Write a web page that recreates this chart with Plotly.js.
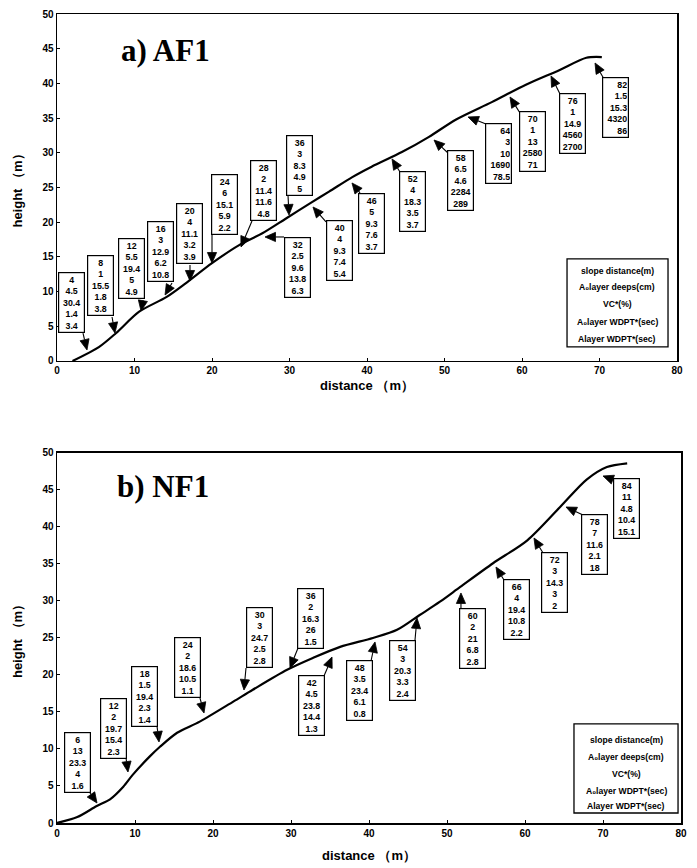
<!DOCTYPE html>
<html><head><meta charset="utf-8">
<script src="https://cdn.plot.ly/plotly-3.0.1.min.js"></script>
<style>body{margin:0;background:#fff}#chart{width:697px;height:868px}</style>
</head><body><div id="chart"></div>
<script>
// ---------- a) AF1 : slope profile ----------
const af1Dist   = [2, 5.4, 7.6, 10.6, 14.1, 16.6, 20, 23.5, 26.5, 29.5, 32.9, 35.1, 38.1, 40.6, 44.5, 48, 51.5, 56.1, 60.5, 64.8, 68.3, 70.3];
const af1Height = [0, 2.0, 4.0, 7.1, 9.2, 11.2, 14.1, 16.7, 18.4, 20.5, 22.9, 24.4, 26.5, 28.0, 30.1, 32.3, 34.8, 37.3, 39.8, 41.9, 43.7, 43.8];
// ---------- a) AF1 : sample point values ----------
const af1Slope  = [4, 8, 12, 16, 20, 24, 28, 32, 36, 40, 46, 52, 58, 64, 70, 76, 82];
const af1Depth  = [4.5, 1, 5.5, 3, 4, 6, 2, 2.5, 3, 4, 5, 4, 6.5, 3, 1, 1, 1.5];
const af1VC     = [30.4, 15.5, 19.4, 12.9, 11.1, 15.1, 11.4, 9.6, 8.3, 9.3, 9.3, 18.3, 4.6, 10, 13, 14.9, 15.3];
const af1WdptA0 = [1.4, 1.8, 5, 6.2, 3.2, 5.9, 11.6, 13.8, 4.9, 7.4, 7.6, 3.5, 2284, 1690, 2580, 4560, 4320];
const af1WdptA  = [3.4, 3.8, 4.9, 10.8, 3.9, 2.2, 4.8, 6.3, 5, 5.4, 3.7, 3.7, 289, 78.5, 71, 2700, 86];

// ---------- b) NF1 : slope profile ----------
const nf1Dist   = [0, 2.6, 5.1, 6.8, 8.5, 9.7, 11.9, 13.2, 15.4, 18.3, 22.6, 25.1, 29.5, 32.8, 36.3, 40.5, 43.6, 46.5, 49.1, 51.7, 55.9, 60.3, 64.5, 67.9, 70.5, 73.1];
const nf1Height = [0, 0.8, 2.3, 3.2, 4.9, 6.5, 9.0, 10.3, 12.2, 13.7, 16.4, 18.0, 20.7, 22.3, 23.8, 25.0, 26.1, 28.1, 29.9, 31.9, 35.1, 38.2, 42.7, 46.4, 48.1, 48.6];
// ---------- b) NF1 : sample point values ----------
const nf1Slope  = [6, 12, 18, 24, 30, 36, 42, 48, 54, 60, 66, 72, 78, 84];
const nf1Depth  = [13, 2, 1.5, 2, 3, 2, 4.5, 3.5, 3, 2, 4, 3, 7, 11];
const nf1VC     = [23.3, 19.7, 19.4, 18.6, 24.7, 16.3, 23.8, 23.4, 20.3, 21, 19.4, 14.3, 11.6, 4.8];
const nf1WdptA0 = [4, 15.4, 2.3, 10.5, 2.5, 26, 14.4, 6.1, 3.3, 6.8, 10.8, 3, 2.1, 10.4];
const nf1WdptA  = [1.6, 2.3, 1.4, 1.1, 2.8, 1.5, 1.3, 0.8, 2.4, 2.8, 2.2, 2, 18, 15.1];

// ---------- texts / ticks ----------
const legendLines = ['slope distance(m)', 'A₀layer deeps(cm)', 'VC*(%)',
                     'A₀layer WDPT*(sec)', 'Alayer WDPT*(sec)'];
const xTickVals = [0, 10, 20, 30, 40, 50, 60, 70, 80];
const yTickVals = [0, 5, 10, 15, 20, 25, 30, 35, 40, 45, 50];
const titleA = 'a) AF1', titleB = 'b) NF1';

// ---------- layout placement (axis units): box centre, arrow tail, arrow tip, align ----------
const af1Place = [
  [1.87, 8.43, 3.35, 4.03, 3.87, 1.59, 'center'],
  [5.55, 10.81, 7.10, 6.34, 7.48, 4.03, 'center'],
  [9.55, 13.26, 11.10, 8.79, 10.84, 7.20, 'center'],
  [13.29, 15.78, 14.84, 11.24, 13.94, 9.51, 'center'],
  [17.16, 18.30, 17.16, 13.83, 17.16, 11.53, 'center'],
  [21.61, 22.62, 20.0, 18.16, 20.0, 14.12, 'center'],
  [26.65, 24.57, 25.16, 20.17, 23.74, 16.43, 'center'],
  [30.97, 13.54, 29.29, 17.87, 26.84, 17.87, 'center'],
  [31.23, 28.17, 29.81, 23.78, 29.94, 21.04, 'center'],
  [36.39, 15.92, 34.71, 20.03, 33.03, 22.19, 'center'],
  [40.58, 19.88, 39.10, 24.21, 38.06, 25.65, 'center'],
  [45.81, 23.05, 44.26, 27.23, 43.23, 29.11, 'center'],
  [52.0, 26.08, 50.45, 29.97, 48.65, 31.84, 'center'],
  [56.97, 29.97, 55.35, 34.15, 53.03, 35.16, 'right'],
  [61.29, 31.63, 59.74, 35.73, 58.45, 38.04, 'center'],
  [66.52, 34.22, 64.90, 38.47, 63.74, 41.07, 'center'],
  [72.06, 36.46, 70.58, 40.63, 69.42, 42.94, 'right']
];
const nf1Place = [
  [2.69, 8.11, 4.23, 4.05, 5.13, 2.70, 'center'],
  [7.24, 12.77, 8.85, 8.78, 9.10, 6.89, 'center'],
  [11.28, 17.09, 12.82, 13.11, 13.08, 10.95, 'center'],
  [16.73, 20.95, 18.33, 16.89, 18.85, 14.86, 'center'],
  [25.90, 25.0, 24.23, 20.95, 23.97, 17.97, 'center'],
  [32.44, 27.70, 30.90, 23.65, 29.87, 20.95, 'center'],
  [32.69, 15.88, 34.23, 19.86, 35.26, 22.43, 'center'],
  [38.72, 17.84, 40.26, 21.89, 40.77, 24.46, 'center'],
  [44.29, 20.54, 45.90, 24.73, 46.15, 27.70, 'center'],
  [53.27, 24.93, 51.79, 29.05, 51.79, 31.08, 'center'],
  [58.85, 28.85, 57.31, 32.84, 56.28, 34.59, 'center'],
  [63.78, 32.50, 62.31, 36.49, 61.15, 38.51, 'center'],
  [68.97, 37.64, 67.44, 41.62, 65.26, 42.70, 'center'],
  [73.01, 42.43, 71.41, 46.35, 70.0, 46.89, 'center']
];

const FONT = 'Liberation Sans, Arial, sans-serif';
const W = 697, H = 868, M = {l: 57, r: 16, t: 14, b: 45};
const plotW = W - M.l - M.r, plotH = H - M.t - M.b;
const domX1 = [0, 0.9936], domY1 = [0.5711, 1], domX2 = [0, 1], domY2 = [0, 0.4574];
// pixels per axis unit (used only to shape isotropic arrowheads)
const sx1 = plotW * (domX1[1] - domX1[0]) / 80, sy1 = plotH * (domY1[1] - domY1[0]) / 50;
const sx2 = plotW * (domX2[1] - domX2[0]) / 80, sy2 = plotH * (domY2[1] - domY2[0]) / 50;

const annotations = [];
const shapes = [];

function arrowShapes(tx, ty, px, py, sx, sy, xr, yr) {
  const dx = (px - tx) * sx, dy = (py - ty) * sy;
  const len = Math.hypot(dx, dy), ux = dx / len, uy = dy / len;
  const L = 10.5, HW = 4.6;
  const bx = px * sx - ux * L, by = py * sy - uy * L;
  const p1 = [(bx - uy * HW) / sx, (by + ux * HW) / sy];
  const p2 = [(bx + uy * HW) / sx, (by - ux * HW) / sy];
  shapes.push({type: 'line', xref: xr, yref: yr, x0: tx, y0: ty, x1: bx / sx, y1: by / sy,
               line: {color: '#000', width: 1.1}});
  shapes.push({type: 'path', xref: xr, yref: yr,
               path: `M${px},${py}L${p1[0]},${p1[1]}L${p2[0]},${p2[1]}Z`,
               fillcolor: '#000', line: {color: '#000', width: 0.8}});
}

function addBoxes(slope, depth, vc, w0, w1, place, xr, yr, sx, sy) {
  slope.forEach((s, i) => {
    const p = place[i];
    annotations.push({
      xref: xr, yref: yr, x: p[0], y: p[1], xanchor: 'center', yanchor: 'middle',
      text: [s, depth[i], vc[i], w0[i], w1[i]].join('<br>'),
      showarrow: false, align: p[6], width: 23, height: 57,
      bordercolor: '#000', borderwidth: 1.2, borderpad: 1, bgcolor: '#fff',
      font: {family: FONT, size: 8.8, color: '#000', weight: 'bold'}
    });
    arrowShapes(p[2], p[3], p[4], p[5], sx, sy, xr, yr);
  });
}
addBoxes(af1Slope, af1Depth, af1VC, af1WdptA0, af1WdptA, af1Place, 'x', 'y', sx1, sy1);
addBoxes(nf1Slope, nf1Depth, nf1VC, nf1WdptA0, nf1WdptA, nf1Place, 'x2', 'y2', sx2, sy2);

function addLegend(xr, yr, rect, cx, rows) {
  shapes.push({type: 'rect', xref: xr, yref: yr, x0: rect[0], x1: rect[1], y0: rect[2], y1: rect[3],
               line: {color: '#000', width: 1.3}, fillcolor: '#fff', layer: 'below'});
  legendLines.forEach((t, i) => annotations.push({
    xref: xr, yref: yr, x: cx, y: rows[i], text: t, showarrow: false,
    font: {family: FONT, size: 8.6, color: '#000', weight: 'bold'}
  }));
}
addLegend('x', 'y', [65.81, 78.84, 2.02, 14.70], 72.32, [12.97, 10.66, 8.21, 5.62, 3.17]);
addLegend('x2', 'y2', [66.28, 79.62, 1.35, 13.38], 72.95, [11.22, 8.92, 6.62, 4.32, 2.30]);

annotations.push({xref: 'x', yref: 'y', x: 14.06, y: 44.67, text: titleA, showarrow: false,
  font: {family: 'Liberation Serif, Times New Roman, serif', size: 31, color: '#000', weight: 'bold'}});
annotations.push({xref: 'x2', yref: 'y2', x: 13.59, y: 45.41, text: titleB, showarrow: false,
  font: {family: 'Liberation Serif, Times New Roman, serif', size: 31, color: '#000', weight: 'bold'}});

const tickFont = {family: FONT, size: 10, color: '#000', weight: 'bold'};
const titleFont = {family: FONT, size: 13, color: '#000', weight: 'bold'};
function axis(dom, extra) {
  return Object.assign({
    domain: dom, showline: true, mirror: true, linecolor: '#000', linewidth: 1.5,
    ticks: 'inside', ticklen: 3, tickcolor: '#000', showgrid: false, zeroline: false,
    tickfont: tickFont, automargin: false, fixedrange: true
  }, extra);
}

const traces = [
  {x: af1Dist, y: af1Height, xaxis: 'x', yaxis: 'y', mode: 'lines',
   line: {color: '#000', width: 2.2, shape: 'spline', smoothing: 0.8}, hoverinfo: 'skip'},
  {x: nf1Dist, y: nf1Height, xaxis: 'x2', yaxis: 'y2', mode: 'lines',
   line: {color: '#000', width: 2.2, shape: 'spline', smoothing: 0.8}, hoverinfo: 'skip'}
];

const layout = {
  width: W, height: H, showlegend: false,
  paper_bgcolor: '#fff', plot_bgcolor: '#fff',
  margin: M,
  xaxis: axis(domX1, {range: [0, 80], tickvals: xTickVals, anchor: 'y',
    title: {text: 'distance （m）', font: titleFont, standoff: 5}}),
  yaxis: axis(domY1, {range: [0, 50], tickvals: yTickVals, anchor: 'x',
    title: {text: 'height （m）', font: titleFont, standoff: 17}}),
  xaxis2: axis(domX2, {range: [0, 80], tickvals: xTickVals, anchor: 'y2',
    title: {text: 'distance （m）', font: titleFont, standoff: 13}}),
  yaxis2: axis(domY2, {range: [0, 50], tickvals: yTickVals, anchor: 'x2',
    title: {text: 'height （m）', font: titleFont, standoff: 17}}),
  annotations: annotations, shapes: shapes
};

Plotly.newPlot('chart', traces, layout, {displayModeBar: false, staticPlot: true});
</script></body></html>
